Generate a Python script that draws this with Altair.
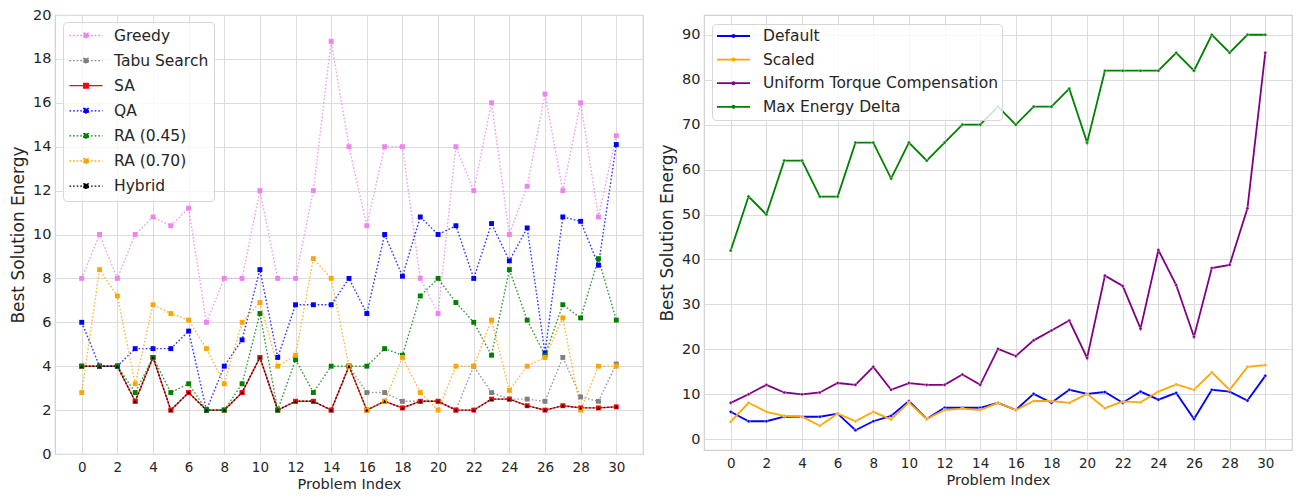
import altair as alt
import pandas as pd

idx = list(range(31))

# ---- left panel data ----
greedy = [8, 10, 8, 10, 10.8, 10.4, 11.2, 6, 8, 8, 12, 8, 8, 12, 18.8, 14, 10.4, 14, 14, 8,
          6.4, 14, 12, 16, 10, 12.2, 16.4, 12, 16, 10.8, 14.5]
tabu = [4, 4, 4, 2.4, 4.4, 2, 2.8, 2, 2, 2.8, 4.4, 2, 2.4, 2.4, 2, 4, 2.8, 2.8, 2.4, 2.4,
        2.4, 2, 4, 2.8, 2.5, 2.5, 2.4, 4.4, 2.6, 2.4, 4.1]
sa = [4, 4, 4, 2.4, 4.4, 2, 2.8, 2, 2, 2.8, 4.4, 2, 2.4, 2.4, 2, 4, 2, 2.4, 2.1, 2.4,
      2.4, 2, 2, 2.5, 2.5, 2.2, 2, 2.2, 2.1, 2.1, 2.15]
qa = [6, 4, 4, 4.8, 4.8, 4.8, 5.6, 2, 4, 5.2, 8.4, 4.4, 6.8, 6.8, 6.8, 8, 6.4, 10, 8.1, 10.8,
      10, 10.4, 8, 10.5, 8.8, 10.3, 4.6, 10.8, 10.6, 8.6, 14.1]
ra45 = [4, 4, 4, 2.8, 4.4, 2.8, 3.2, 2, 2, 3.2, 6.4, 2, 4.3, 2.8, 4, 4, 4, 4.8, 4.5, 7.2,
        8, 6.9, 6, 4.5, 8.4, 6.1, 4.5, 6.8, 6.2, 8.9, 6.1]
ra70 = [2.8, 8.4, 7.2, 3.2, 6.8, 6.4, 6.1, 4.8, 3.2, 6, 6.9, 4, 4.5, 8.9, 8, 4, 2, 2.4, 4.4, 2.8,
        2, 4, 4, 6.1, 2.9, 4, 4.4, 6.2, 2, 4, 4]
hybrid = [4, 4, 4, 2.4, 4.4, 2, 2.8, 2, 2, 2.8, 4.4, 2, 2.4, 2.4, 2, 4, 2, 2.4, 2.1, 2.4,
          2.4, 2, 2, 2.5, 2.5, 2.2, 2, 2.2, 2.1, 2.1, 2.15]

left_names = ["Greedy", "Tabu Search", "SA", "QA", "RA (0.45)", "RA (0.70)", "Hybrid"]
left_colors = ["#ee82ee", "#808080", "#ff0000", "#0000ff", "#008000", "#ffa500", "#000000"]
left_dash = [[1.6, 2], [1.6, 2], [1, 0], [1.6, 2], [1.6, 2], [1.6, 2], [1.6, 2]]
left_series = [greedy, tabu, sa, qa, ra45, ra70, hybrid]

# ---- right panel data ----
default = [6.1, 4, 4, 5, 5, 5, 5.7, 2, 4, 5.2, 8.5, 4.5, 7, 7, 7, 8.1, 6.5, 10.1, 8.1, 11,
           10.1, 10.5, 8.1, 10.6, 8.8, 10.3, 4.5, 11, 10.6, 8.6, 14.1]
scaled = [3.9, 8.1, 6.1, 5.2, 5, 3, 5.7, 4, 6.1, 4.4, 8.2, 4.5, 6.5, 6.8, 6.5, 8.1, 6.5, 8.5, 8.5, 8.1,
          10.1, 6.9, 8.4, 8.2, 10.6, 12.2, 11, 14.9, 11, 16.1, 16.5]
uniform = [8.1, 10, 12.1, 10.4, 10, 10.4, 12.5, 12.1, 16.1, 11, 12.5, 12.1, 12.1, 14.4, 12.1, 20.1,
           18.5, 22, 24.2, 26.4, 18.1, 36.4, 34.1, 24.6, 42.1, 34.3, 22.8, 38.1, 38.8, 51.4, 86]
maxdelta = [42, 54, 50, 62, 62, 54, 54, 66, 66, 58, 66, 62, 66, 70, 70, 74, 70, 74, 74, 78,
            66, 82, 82, 82, 82, 86, 82, 90, 86, 90, 90]

right_names = ["Default", "Scaled", "Uniform Torque Compensation", "Max Energy Delta"]
right_colors = ["#0000ff", "#ffa500", "#800080", "#008000"]
right_series = [default, scaled, uniform, maxdelta]

x_ticks = list(range(0, 31, 2))
left_y_ticks = list(range(0, 21, 2))
right_y_ticks = list(range(0, 91, 10))


def long_df(names, series):
    rows = []
    for name, vals in zip(names, series):
        for i, v in zip(idx, vals):
            rows.append({"idx": i, "val": v, "series": name})
    return pd.DataFrame(rows)


df_left = long_df(left_names, left_series)
df_right = long_df(right_names, right_series)

FONT = "DejaVu Sans"
TXT = "#262626"

# legend symbols: a horizontal line with a small marker in its middle
LINE_SQUARE = "M-1,0H1M-0.14,-0.14H0.14V0.14H-0.14Z"
LINE_DOT = "M-1,0H1M-0.07,0A0.07,0.07 0 1,0 0.07,0A0.07,0.07 0 1,0 -0.07,0Z"


def x_axis():
    return alt.Axis(values=x_ticks, title="Problem Index", labelFontSize=13.5, titleFontSize=14.5,
                    labelPadding=6, titlePadding=4, labelFlush=False)


def y_axis(vals):
    return alt.Axis(values=vals, title="Best Solution Energy", labelFontSize=14.5, titleFontSize=17,
                    labelPadding=4, titlePadding=5)


def legend(x, y, rowpad, pad, loff, path, sw):
    return alt.Legend(orient="none", legendX=x, legendY=y, title=None, labelFontSize=15.5,
                      labelFont=FONT, labelColor=TXT, labelLimit=400, symbolSize=1089,
                      symbolStrokeWidth=sw, symbolType=path, symbolOpacity=1, clipHeight=16,
                      rowPadding=rowpad, padding=pad, labelOffset=loff,
                      fillColor="rgba(255,255,255,0.8)", strokeColor="#d6d6d6", cornerRadius=4)


# ---- left chart ----
lx = alt.X("idx:Q", scale=alt.Scale(domain=[-1.5, 31.5], nice=False, zero=False), axis=x_axis())
ly = alt.Y("val:Q", scale=alt.Scale(domain=[0, 20], nice=False), axis=y_axis(left_y_ticks))

lleg = legend(8, 7, 8.1, 5.5, 10.5, LINE_SQUARE, 1.3)
left_lines = alt.Chart(df_left).mark_line(strokeWidth=1.4, strokeOpacity=0.8).encode(
    x=lx, y=ly,
    stroke=alt.Stroke("series:N", scale=alt.Scale(domain=left_names, range=left_colors), legend=lleg),
    strokeDash=alt.StrokeDash("series:N", scale=alt.Scale(domain=left_names, range=left_dash), legend=lleg),
)
left_squares = alt.Chart(df_left).transform_filter(
    alt.datum.series != "Hybrid"
).mark_point(filled=True, opacity=1, shape="square", size=24).encode(
    x=lx, y=ly,
    fill=alt.Fill("series:N", scale=alt.Scale(domain=left_names, range=left_colors), legend=lleg),
)
left_tri = alt.Chart(df_left).transform_filter(
    alt.datum.series == "Hybrid"
).mark_point(filled=True, opacity=1, shape="triangle-up", size=12, fill="#000000").encode(
    x=lx, y=ly,
)
left = alt.layer(left_lines, left_squares, left_tri).properties(width=588, height=439)

# ---- right chart ----
rx = alt.X("idx:Q", scale=alt.Scale(domain=[-1.5, 31.5], nice=False, zero=False), axis=x_axis())
ry = alt.Y("val:Q", scale=alt.Scale(domain=[-2.4, 94.4], nice=False, zero=False), axis=y_axis(right_y_ticks))

rleg = legend(8, 9, 6.6, 4, 12, LINE_DOT, 1.8)
right_lines = alt.Chart(df_right).mark_line(strokeWidth=1.8).encode(
    x=rx, y=ry,
    stroke=alt.Stroke("series:N", scale=alt.Scale(domain=right_names, range=right_colors), legend=rleg),
)
right_points = alt.Chart(df_right).mark_point(filled=True, opacity=1, size=10, stroke="white", strokeWidth=0.4).encode(
    x=rx, y=ry,
    fill=alt.Fill("series:N", scale=alt.Scale(domain=right_names, range=right_colors), legend=rleg),
)
right = alt.layer(right_lines, right_points).properties(width=588, height=435)

chart = alt.hconcat(left, right, spacing=13).resolve_scale(
    stroke="independent", fill="independent", strokeDash="independent",
    x="independent", y="independent"
).resolve_legend(
    stroke="independent", fill="independent", strokeDash="independent"
).properties(
    padding={"left": 8, "top": 6, "right": 4, "bottom": 2},
    background="white",
).configure_axis(
    grid=True, gridColor="#dcdcdc", gridWidth=1, domain=False, ticks=False, tickSize=0,
    labelFont=FONT, titleFont=FONT, labelColor=TXT, titleColor=TXT, titleFontWeight="normal",
).configure_view(
    stroke="#d0d0d0", strokeWidth=1.2,
).configure_legend(
    labelFont=FONT,
)

chart.save("out.html", embed_options={"renderer": "svg", "actions": False})
